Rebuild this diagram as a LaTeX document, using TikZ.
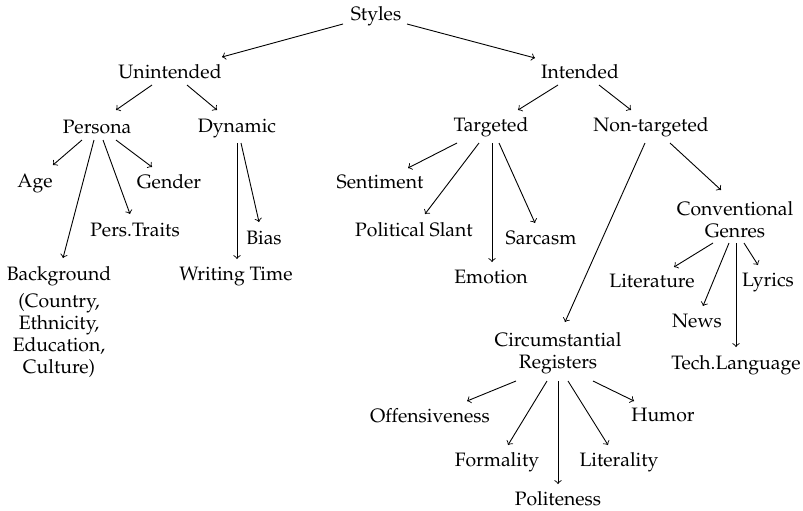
\documentclass[tikz,border=0pt]{standalone}
\usepackage[T1]{fontenc}
\usepackage{mathpazo}
\tikzset{
  lbl/.style={anchor=base, inner sep=0pt, outer sep=0pt,
              font=\fontsize{9.7pt}{11pt}\selectfont},
  multi/.style={lbl, align=center},
  arr/.style={->, line width=0.45pt}
}
\begin{document}
\begin{tikzpicture}[x=0.5pt, y=-0.5pt]
\useasboundingbox (0,0) rectangle (803,510);

% nodes, placed by their baselines (last line for multi-line nodes)
\node[lbl] (sty) at (376,20) {Styles};
\node[lbl] (unint) at (170,78) {Unintended};
\node[lbl] (int) at (580,78) {Intended};
\node[lbl] (pers) at (97,133) {Persona};
\node[lbl] (dyn) at (237,132) {Dynamic};
\node[lbl] (targ) at (491,131) {Targeted};
\node[lbl] (ntarg) at (651,131) {Non-targeted};
\node[lbl] (age) at (35,187) {Age};
\node[lbl] (gend) at (169,188) {Gender};
\node[lbl] (ptr) at (135,236) {Pers.Traits};
\node[multi] (bg) at (59,373) {Background\\[2.5pt](Country,\\Ethnicity,\\Education,\\Culture)};
\node[lbl] (bias) at (264,244) {Bias};
\node[lbl] (wt) at (236,280) {Writing Time};
\node[lbl] (sent) at (380,188) {Sentiment};
\node[lbl] (pol) at (414,236) {Political Slant};
\node[lbl] (sarc) at (541,244) {Sarcasm};
\node[lbl] (emo) at (491,283) {Emotion};
\node[multi] (conv) at (735,237) {Conventional\\Genres};
\node[lbl] (lit) at (652,287) {Literature};
\node[lbl] (lyr) at (768,286) {Lyrics};
\node[lbl] (news) at (697,327) {News};
\node[lbl] (tech) at (736,369) {Tech.Language};
\node[multi] (circ) at (558,368) {Circumstantial\\Registers};
\node[lbl] (off) at (430,422) {Offensiveness};
\node[lbl] (hum) at (663,421) {Humor};
\node[lbl] (form) at (497,466) {Formality};
\node[lbl] (ltr) at (619,466) {Literality};
\node[lbl] (polt) at (558,505) {Politeness};

% edges
\draw[arr] ([shift={(-33,4)}]sty.base) -- ([shift={(52,-21)}]unint.base);
\draw[arr] ([shift={(31,4)}]sty.base) -- ([shift={(-45,-20)}]int.base);

\draw[arr] ([shift={(-18,7)}]unint.base) -- ([shift={(19,-23)}]pers.base);
\draw[arr] ([shift={(17,7)}]unint.base) -- ([shift={(-20,-22)}]dyn.base);

\draw[arr] ([shift={(-22,7)}]int.base) -- ([shift={(27,-21)}]targ.base);
\draw[arr] ([shift={(19,7)}]int.base) -- ([shift={(-20,-21)}]ntarg.base);

\draw[arr] ([shift={(-15,7)}]pers.base) -- ([shift={(18,-22)}]age.base);
\draw[arr] ([shift={(-3,7)}]pers.base) -- ([shift={(4,-115)}]bg.base);
\draw[arr] ([shift={(6,7)}]pers.base) -- ([shift={(-5,-22)}]ptr.base);
\draw[arr] ([shift={(19,7)}]pers.base) -- ([shift={(-17,-21)}]gend.base);

\draw[arr] ([shift={(0,11)}]dyn.base) -- ([shift={(1,-21)}]wt.base);
\draw[arr] ([shift={(4,11)}]dyn.base) -- ([shift={(-5,-22)}]bias.base);

\draw[arr] ([shift={(-34,12)}]targ.base) -- ([shift={(28,-20)}]sent.base);
\draw[arr] ([shift={(-12,12)}]targ.base) -- ([shift={(11,-22)}]pol.base);
\draw[arr] ([shift={(1,12)}]targ.base) -- ([shift={(1,-21)}]emo.base);
\draw[arr] ([shift={(8,12)}]targ.base) -- ([shift={(-6,-21)}]sarc.base);

\draw[arr] ([shift={(-6,12)}]ntarg.base) -- ([shift={(7,-46)}]circ.base);
\draw[arr] ([shift={(19,12)}]ntarg.base) -- ([shift={(-14,-47)}]conv.base);

\draw[arr] ([shift={(-22,6)}]conv.base) -- ([shift={(22,-20)}]lit.base);
\draw[arr] ([shift={(-6,6)}]conv.base) -- ([shift={(6,-21)}]news.base);
\draw[arr] ([shift={(1,6)}]conv.base) -- ([shift={(0,-22)}]tech.base);
\draw[arr] ([shift={(9,6)}]conv.base) -- ([shift={(-10,-21)}]lyr.base);

\draw[arr] ([shift={(-42,13)}]circ.base) -- ([shift={(37,-21)}]off.base);
\draw[arr] ([shift={(-11,13)}]circ.base) -- ([shift={(11,-21)}]form.base);
\draw[arr] ([shift={(0,13)}]circ.base) -- ([shift={(0,-21)}]polt.base);
\draw[arr] ([shift={(10,13)}]circ.base) -- ([shift={(-11,-21)}]ltr.base);
\draw[arr] ([shift={(35,13)}]circ.base) -- ([shift={(-29,-20)}]hum.base);
\end{tikzpicture}
\end{document}
